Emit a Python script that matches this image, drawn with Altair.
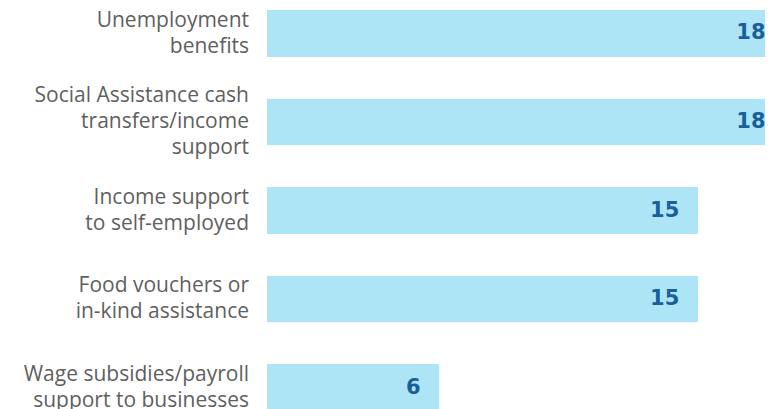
import altair as alt
import pandas as pd

categories = [
    "Unemployment|benefits",
    "Social Assistance cash|transfers/income|support",
    "Income support|to self-employed",
    "Food vouchers or|in-kind assistance",
    "Wage subsidies/payroll|support to businesses",
]
values = [18, 18, 15, 15, 6]

LINE_H = 26
HALF_BAND = 23.5
df = pd.DataFrame({"category": categories, "value": values})
df["label_offset"] = [HALF_BAND - c.count("|") * LINE_H / 2 for c in categories]

x_scale = alt.Scale(domain=[0, 17.32], nice=False, zero=True)
y_scale = alt.Scale(domain=categories, range=[2, 403], paddingInner=0.469, paddingOuter=0)

base = alt.Chart(df)

bars = base.mark_bar(color="#ade4f6", cornerRadiusEnd=2).encode(
    x=alt.X("value:Q", scale=x_scale, axis=None),
    y=alt.Y("category:N", scale=y_scale, sort=categories, axis=None),
)

values_text = base.mark_text(
    align="right",
    baseline="middle",
    dx=-19,
    font="DejaVu Sans",
    fontSize=21,
    fontWeight="bold",
    color="#1a5e9c",
).encode(
    x=alt.X("value:Q", scale=x_scale),
    y=alt.Y("category:N", scale=y_scale, sort=categories),
    text=alt.Text("value:Q"),
)

cat_text = base.mark_text(
    align="right",
    baseline="middle",
    dx=-18,
    font="Open Sans",
    fontSize=21,
    color="#5f5f5f",
    lineBreak="|",
    lineHeight=LINE_H,
).encode(
    x=alt.value(0),
    y=alt.Y("category:N", scale=y_scale, sort=categories),
    yOffset=alt.YOffset("label_offset:Q", scale=None),
    text="category:N",
)

chart = (
    alt.layer(bars, values_text, cat_text)
    .properties(
        width=498,
        height=401,
        autosize=alt.AutoSizeParams(type="none"),
        padding={"left": 259, "top": 0, "right": 0, "bottom": 0},
    )
    .configure_view(stroke=None)
)

chart.save("out.html", embed_options={"renderer": "svg", "actions": False})
